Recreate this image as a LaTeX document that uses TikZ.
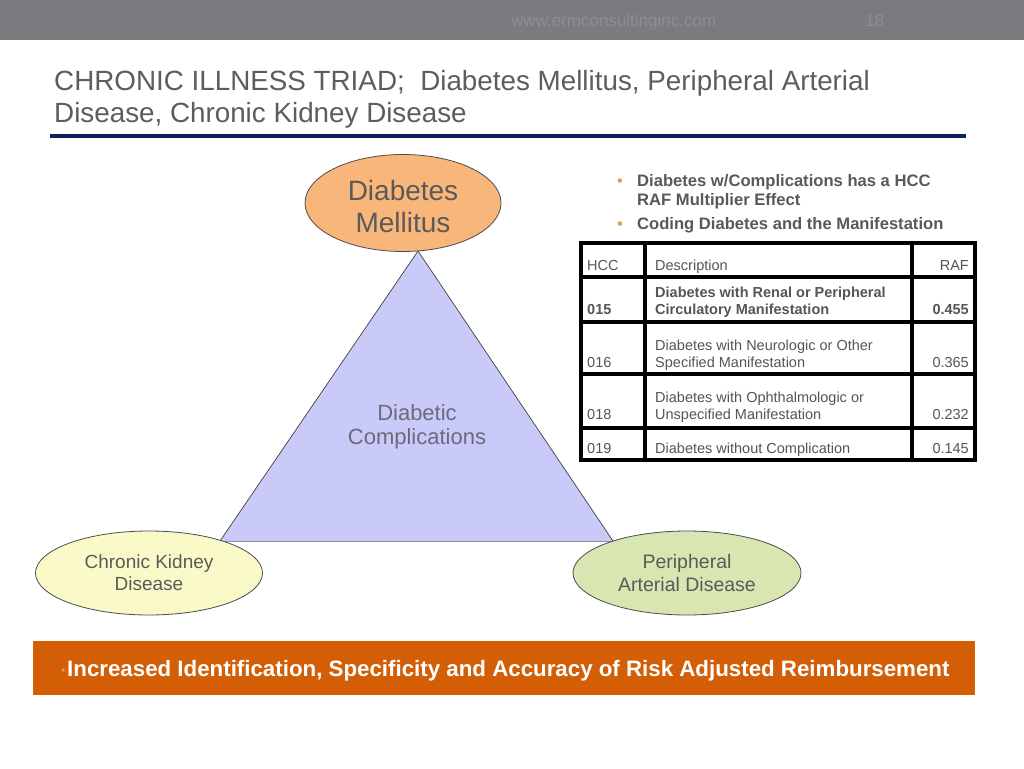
\documentclass[tikz,border=0pt]{standalone}
\usepackage{fontspec}
\setmainfont{Liberation Sans}
\usetikzlibrary{shapes.geometric}
\definecolor{barg}{HTML}{7A7B7F}
\definecolor{bartxt}{HTML}{8D8E92}
\definecolor{navy}{HTML}{0E2158}
\definecolor{titletxt}{HTML}{5C5C62}
\definecolor{bultxt}{HTML}{595959}
\definecolor{dmfill}{HTML}{F9B67A}
\definecolor{ckdfill}{HTML}{FAFAC8}
\definecolor{padfill}{HTML}{D8E6B2}
\definecolor{trifill}{HTML}{CACAF9}
\definecolor{tritxt}{HTML}{6A6A7E}
\definecolor{elltxt}{HTML}{5A5A5A}
\definecolor{tabtxt}{HTML}{555555}
\definecolor{bultan}{HTML}{D6A24E}
\definecolor{orangebar}{HTML}{D35E06}
\tikzset{
  fs/.style={font=\fontsize{#1}{#1}\selectfont},
  fsb/.style={font=\fontsize{#1}{#1}\selectfont\bfseries},
  txt/.style={anchor=base west, inner sep=0pt},
  txte/.style={anchor=base east, inner sep=0pt},
  ell/.style={ellipse, draw=black!70, line width=0.8pt, inner sep=0pt, align=center, text=elltxt},
  tabline/.style={line width=3.2pt, black},
}
\begin{document}
\begin{tikzpicture}[x=1pt,y=-1pt]
\useasboundingbox (0,0) rectangle (1024,768);
\fill[white] (0,0) rectangle (1024,768);
% top bar
\fill[barg] (0,0) rectangle (1024,40);
\node[txt, fs=17, text=bartxt] (url) at (511,27) {www.ermconsultinginc.com};
\node[txt, fs=17, text=bartxt] (pg) at (865,27) {18};
% title
\node[txt, fs=27.8, text=titletxt] (title1) at (54,90) {CHRONIC ILLNESS TRIAD;\ \ Diabetes Mellitus, Peripheral Arterial};
\node[txt, fs=27.8, text=titletxt] (title2) at (54,122) {Disease, Chronic Kidney Disease};
\fill[navy] (50,134) rectangle (966,138);
% triangle
\coordinate (apex) at (418,251);
\coordinate (bl) at (220,541);
\coordinate (br) at (613,541);
\fill[trifill] (apex) -- (bl) -- (br) -- cycle;
\draw[black!75, line width=0.7pt] (bl) -- (apex) -- (br);
\draw[trifill!70!black, line width=0.5pt] (bl) -- (br);
\node[fs=22, text=tritxt, align=center, inner sep=0pt] (dc) at (417,427) {Diabetic\\[2pt]Complications};
% ellipses
\node[ell, fill=dmfill, minimum width=196pt, minimum height=97pt] (dm) at (403,203) {};
\node[fs=28, text=elltxt, align=center, inner sep=0pt] (dmt) at (dm.center) [yshift=-3pt] {Diabetes\\[4pt]Mellitus};
\node[ell, fill=ckdfill, minimum width=227pt, minimum height=84pt, fs=19] (ckd) at (149,573) {Chronic Kidney\\[3pt]Disease};
\node[ell, fill=padfill, minimum width=228pt, minimum height=84pt, fs=19.5] (pad) at (687,573) {Peripheral\\[3pt]Arterial Disease};
% bullets
\node[txt, fs=16.5, text=bultan] (b1d) at (617,186) {\textbullet};
\node[txt, fsb=16.6, text=bultxt] (b1) at (637,186) {Diabetes w/Complications has a HCC};
\node[txt, fsb=16.6, text=bultxt] (b1b) at (637,205) {RAF Multiplier Effect};
\node[txt, fs=16.5, text=bultan] (b2d) at (617,229) {\textbullet};
\node[txt, fsb=16.6, text=bultxt] (b2) at (637,229) {Coding Diabetes and the Manifestation};
% table
\fill[white] (581,243) rectangle (975,460);
\draw[tabline] (581,243) rectangle (975,460);
\draw[tabline] (645,243) -- (645,460);
\draw[tabline] (912,243) -- (912,460);
\foreach \yy in {277,322,374,428} { \draw[tabline] (581,\yy) -- (975,\yy); }
\begin{scope}[every node/.append style={text=tabtxt}]
\node[txt, fs=14.5] (h1) at (587,270) {HCC};
\node[txt, fs=14.5] (h2) at (655,270) {Description};
\node[txte, fs=14.5] (h3) at (969,270) {RAF};
\node[txt, fsb=14.5] (r1a) at (587,314) {015};
\node[txt, fsb=14.5] (r1b) at (655,297) {Diabetes with Renal or Peripheral};
\node[txt, fsb=14.5] (r1c) at (655,314) {Circulatory Manifestation};
\node[txte, fsb=14.5] (r1d) at (969,314) {0.455};
\node[txt, fs=14.5] (r2a) at (587,367) {016};
\node[txt, fs=14.5] (r2b) at (655,350) {Diabetes with Neurologic or Other};
\node[txt, fs=14.5] (r2c) at (655,367) {Specified Manifestation};
\node[txte, fs=14.5] (r2d) at (969,367) {0.365};
\node[txt, fs=14.5] (r3a) at (587,419) {018};
\node[txt, fs=14.5] (r3b) at (655,402) {Diabetes with Ophthalmologic or};
\node[txt, fs=14.5] (r3c) at (655,419) {Unspecified Manifestation};
\node[txte, fs=14.5] (r3d) at (969,419) {0.232};
\node[txt, fs=14.5] (r4a) at (587,453) {019};
\node[txt, fs=14.5] (r4b) at (655,453) {Diabetes without Complication};
\node[txte, fs=14.5] (r4d) at (969,453) {0.145};
\end{scope}
% bottom bar
\fill[orangebar] (33,641) rectangle (975,695);
\node[txt, fs=12, text=bultan] (bd) at (61,674) {\textbullet};
\node[txt, fsb=22.3, text=white] (bt) at (67,676) {Increased Identification, Specificity and Accuracy of Risk Adjusted Reimbursement};
\end{tikzpicture}
\end{document}
